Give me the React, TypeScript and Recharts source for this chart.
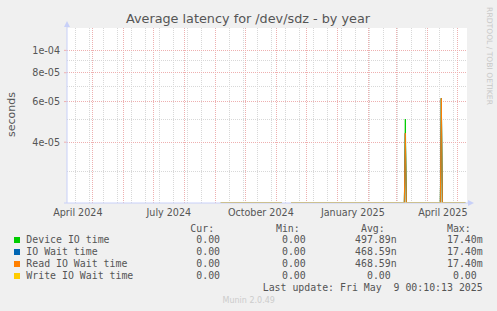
import React from 'react';
import { LineChart, Line, XAxis, YAxis, ReferenceLine, ReferenceArea } from 'recharts';

document.body.style.margin = '0';

const DAY = 86400000;
const START = Date.UTC(2024, 3, 5, 16);
const END = START + 400 * DAY;

// y range of the log axis (seconds)
const Y_MIN = 2.18e-5;
const Y_MAX = 1.25e-4;

// sample times; the null row breaks the line (no data)
const sampleTimes = [
  Date.UTC(2024, 8, 6, 10),
  Date.UTC(2024, 10, 6, 10),
  Date.UTC(2024, 10, 10),
  Date.UTC(2024, 10, 15, 16),
  Date.UTC(2025, 2, 9),
  Date.UTC(2025, 2, 10),
  Date.UTC(2025, 2, 11),
  Date.UTC(2025, 3, 14),
  Date.UTC(2025, 3, 15),
  Date.UTC(2025, 3, 16),
  Date.UTC(2025, 4, 9),
];
const deviceIO = [0, 0, null, 0, 0, 5.04e-5, 0, 0, 6.2e-5, 0, 0];
const ioWait = [0, 0, null, 0, 0, 4.38e-5, 0, 0, 6.2e-5, 0, 0];
const readIOWait = [0, 0, null, 0, 0, 4.38e-5, 0, 0, 6.2e-5, 0, 0];
const writeIOWait = [0, 0, null, 0, 0, 0, 0, 0, 0, 0, 0];

const seriesKeys = ['device', 'iowait', 'read', 'write'];
const seriesNames = ['Device IO time', 'IO Wait time', 'Read IO Wait time', 'Write IO Wait time'];
const seriesColors = ['#00cc00', '#0066b3', '#ff8000', '#ffcc00'];
const curValues = ['0.00', '0.00', '0.00', '0.00'];
const minValues = ['0.00', '0.00', '0.00', '0.00'];
const avgValues = ['497.89n', '468.59n', '468.59n', '0.00'];
const maxValues = ['17.40m', '17.40m', '17.40m', '0.00'];

const xLabelTimes = [
  Date.UTC(2024, 3, 16, 12),
  Date.UTC(2024, 6, 16, 12),
  Date.UTC(2024, 9, 16, 12),
  Date.UTC(2025, 0, 16, 12),
  Date.UTC(2025, 3, 16, 12),
];
const xLabels = ['April 2024', 'July 2024', 'October 2024', 'January 2025', 'April 2025'];

const monthStarts = [
  Date.UTC(2024, 4, 1), Date.UTC(2024, 5, 1), Date.UTC(2024, 6, 1), Date.UTC(2024, 7, 1),
  Date.UTC(2024, 8, 1), Date.UTC(2024, 9, 1), Date.UTC(2024, 10, 1), Date.UTC(2024, 11, 1),
  Date.UTC(2025, 0, 1), Date.UTC(2025, 1, 1), Date.UTC(2025, 2, 1), Date.UTC(2025, 3, 1),
  Date.UTC(2025, 4, 1),
];

// minor vertical grid every two weeks
const biweekly: number[] = [];
for (let t = Date.UTC(2024, 3, 14, 6); t < END; t += 14 * DAY) biweekly.push(t);

const yMajor = [4e-5, 6e-5, 8e-5, 1e-4];
const yMajorLabels = ['4e-05', '6e-05', '8e-05', '1e-04'];
const yMinor = [3e-5, 5e-5, 7e-5, 9e-5];

const lg = (v: number | null) => (v == null ? null : v > 0 ? Math.log10(v) : Math.log10(Y_MIN));

const data = sampleTimes.map((t, i) => ({
  t,
  device: lg(deviceIO[i]),
  iowait: lg(ioWait[i]),
  read: lg(readIOWait[i]),
  write: lg(writeIOWait[i]),
}));

const MINOR = '#d8d8d8';
const MAJOR = '#eeb0b0';
const AXIS = '#c8d0f8';
const TXT = '#555555';
const SANS = '"DejaVu Sans", sans-serif';
const MONO = '"DejaVu Sans Mono", monospace';
const LFS = 9.9;
const CW = 0.602 * LFS;

const colHeads = ['Cur:', 'Min:', 'Avg:', 'Max:'];
const colEnds = [226, 311.7, 396.7, 482.7];
const cols = [curValues, minValues, avgValues, maxValues];

const valueX = (s: string, end: number) => (/[a-zA-Z]$/.test(s) ? end : end - CW);

export default function App() {
  return (
    <div style={{ position: 'relative', width: 497, height: 311, background: '#f0f0f0', overflow: 'hidden' }}>
      <LineChart width={497} height={311} data={data} margin={{ top: 28, right: 30, bottom: 78, left: 7 }}>
        <XAxis
          dataKey="t"
          type="number"
          domain={[START, END]}
          ticks={xLabelTimes}
          tickFormatter={(v: number) => xLabels[xLabelTimes.indexOf(v)] ?? ''}
          axisLine={false}
          tickLine={false}
          tickSize={0}
          tickMargin={5.7}
          height={30}
          interval={0}
          tick={{ fill: TXT, fontSize: 9.6, fontFamily: SANS }}
        />
        <YAxis
          type="number"
          domain={[Math.log10(Y_MIN), Math.log10(Y_MAX)]}
          allowDataOverflow
          ticks={yMajor.map((v) => Math.log10(v))}
          tickFormatter={(v: number) => {
            const i = yMajor.findIndex((m) => Math.abs(Math.log10(m) - v) < 1e-9);
            return i >= 0 ? yMajorLabels[i] : '';
          }}
          axisLine={false}
          tickLine={{ stroke: MAJOR }}
          tickSize={3}
          tickMargin={4}
          width={60}
          interval={0}
          tick={{ fill: TXT, fontSize: 9.6, fontFamily: SANS }}
        />
        <ReferenceArea
          x1={START}
          x2={END}
          y1={Math.log10(Y_MIN)}
          y2={Math.log10(Y_MAX)}
          fill="#ffffff"
          fillOpacity={1}
          stroke="none"
        />
        {biweekly.map((t) => (
          <ReferenceLine key={`w${t}`} x={t} stroke={MINOR} strokeDasharray="1 1" shapeRendering="crispEdges" />
        ))}
        {yMinor.map((v) => (
          <ReferenceLine key={`ym${v}`} y={Math.log10(v)} stroke={MINOR} strokeDasharray="1 1" shapeRendering="crispEdges" />
        ))}
        {monthStarts.map((t) => (
          <ReferenceLine key={`m${t}`} x={t} stroke={MAJOR} strokeDasharray="1 1" shapeRendering="crispEdges" />
        ))}
        {yMajor.map((v) => (
          <ReferenceLine key={`yM${v}`} y={Math.log10(v)} stroke={MAJOR} strokeDasharray="1 1" shapeRendering="crispEdges" />
        ))}
        {seriesKeys.map((k, i) => (
          <Line
            key={k}
            type="linear"
            dataKey={k}
            stroke={seriesColors[i]}
            strokeWidth={1}
            dot={false}
            activeDot={false}
            connectNulls={false}
            isAnimationActive={false}
          />
        ))}
      </LineChart>

      <svg
        width={497}
        height={311}
        style={{ position: 'absolute', left: 0, top: 0, pointerEvents: 'none' }}
      >
        {/* axes with arrows */}
        <line x1={67} y1={203} x2={67} y2={25} stroke={AXIS} strokeWidth={1} />
        <polygon points="64,27 70,27 67,21" fill={AXIS} />
        <line x1={64} y1={203} x2={470} y2={203} stroke={AXIS} strokeWidth={1} />
        <polygon points="468,200 468,206 474,203" fill={AXIS} />

        <text x={248} y={23} textAnchor="middle" fontFamily={SANS} fontSize={12.8} fill={TXT}>
          Average latency for /dev/sdz - by year
        </text>
        <text
          x={0}
          y={0}
          transform="translate(11.5,114.5) rotate(-90)"
          textAnchor="middle"
          dominantBaseline="central"
          fontFamily={SANS}
          fontSize={11}
          fill={TXT}
        >
          seconds
        </text>
        <text
          x={0}
          y={0}
          transform="translate(489,56) rotate(90)"
          textAnchor="middle"
          dominantBaseline="central"
          fontFamily={SANS}
          fontSize={7.6}
          fill="#c8c8c8"
        >
          RRDTOOL / TOBI OETIKER
        </text>

        {/* legend */}
        {colHeads.map((h, c) => (
          <text key={h} x={colEnds[c] - 2 * CW} y={231.5} textAnchor="end" fontFamily={MONO} fontSize={LFS} fill={TXT}>
            {h}
          </text>
        ))}
        {seriesNames.map((name, i) => (
          <g key={name}>
            <rect x={14} y={237 + i * 12} width={6} height={6} fill={seriesColors[i]} />
            <text x={26.3} y={243.3 + i * 12} fontFamily={MONO} fontSize={LFS} fill={TXT}>
              {name}
            </text>
            {cols.map((col, c) => (
              <text
                key={c}
                x={valueX(col[i], colEnds[c])}
                y={243.3 + i * 12}
                textAnchor="end"
                fontFamily={MONO}
                fontSize={LFS}
                fill={TXT}
              >
                {col[i]}
              </text>
            ))}
          </g>
        ))}
        <text
          x={482.7}
          y={291.3}
          textAnchor="end"
          fontFamily={MONO}
          fontSize={LFS}
          fill={TXT}
          xmlSpace="preserve"
          style={{ whiteSpace: 'pre' }}
        >
          {'Last update: Fri May  9 00:10:13 2025'}
        </text>
        <text x={248.7} y={302.5} textAnchor="middle" fontFamily={SANS} fontSize={8} fill="#cccccc">
          Munin 2.0.49
        </text>
      </svg>
    </div>
  );
}
